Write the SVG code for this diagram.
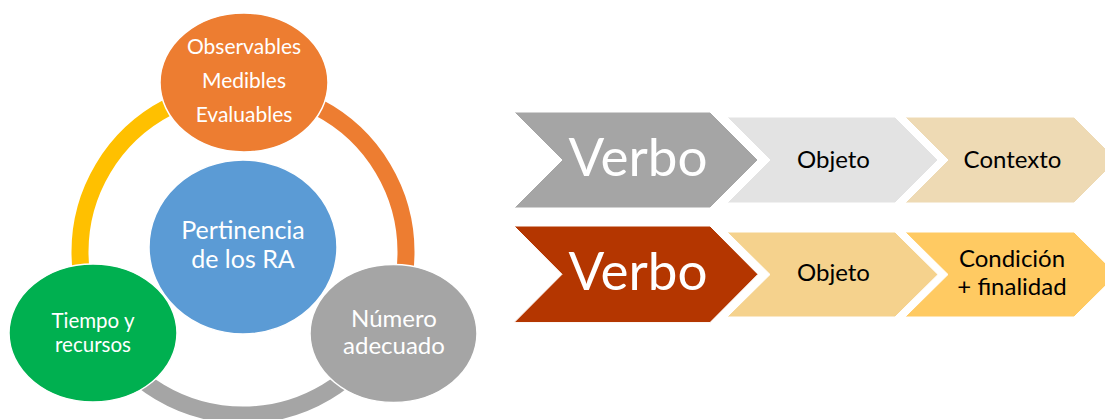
<svg xmlns="http://www.w3.org/2000/svg" width="1105" height="419" viewBox="0 0 1105 419">
<style>
.t{font-family:Lato,"Open Sans","Liberation Sans",sans-serif;text-anchor:middle}
.w{fill:#ffffff}
.k{fill:#000000}
.ell{stroke:#ffffff;stroke-width:1.5}
.chev{stroke:#ffffff;stroke-width:1}
.ring{fill:none;stroke-width:17}
</style>
<rect width="1105" height="419" fill="#ffffff"/>
<g id="connectors">
<path class="ring" stroke="#FFC000" d="M 243 89 A 163 163 0 0 0 99.6 329.5"/>
<path class="ring" stroke="#ED7D31" d="M 243 89 A 163 163 0 0 1 386.4 329.5"/>
<path class="ring" stroke="#A5A5A5" d="M 386.4 329.5 A 163 163 0 0 1 99.6 329.5"/>
</g>
<g id="node-top">
<ellipse class="ell" cx="244" cy="82.5" rx="84" ry="69.5" fill="#ED7D31"/>
<text class="t w" x="244" y="54" font-size="21">Observables</text>
<text class="t w" x="244" y="88" font-size="21">Medibles</text>
<text class="t w" x="244" y="122" font-size="21">Evaluables</text>
</g>
<g id="node-center">
<ellipse class="ell" cx="243" cy="247" rx="94" ry="87" fill="#5B9BD5"/>
<text class="t w" x="243" y="239" font-size="25">Pertinencia</text>
<text class="t w" x="243" y="268" font-size="25">de los RA</text>
</g>
<g id="node-green">
<ellipse class="ell" cx="93" cy="333" rx="84" ry="69" fill="#00B050"/>
<text class="t w" x="93" y="328" font-size="20.5">Tiempo y</text>
<text class="t w" x="93" y="352" font-size="20.5">recursos</text>
</g>
<g id="node-gray">
<ellipse class="ell" cx="393.5" cy="333.5" rx="83.5" ry="69" fill="#A5A5A5"/>
<text class="t w" x="394" y="327" font-size="24">Número</text>
<text class="t w" x="394" y="354" font-size="24">adecuado</text>
</g>
<g id="row1-verbo">
<polygon class="chev" fill="#A5A5A5" points="514,112 710,112 758,160 710,208 514,208 562,160"/>
<text class="t w" x="638" y="176" font-size="53">Verbo</text>
</g>
<g id="row1-objeto">
<polygon class="chev" fill="#E3E3E3" points="727,117 895,117 938,160 895,203 727,203 770,160"/>
<text class="t k" x="833.5" y="168" font-size="24">Objeto</text>
</g>
<g id="row1-contexto">
<polygon class="chev" fill="#EEDAB4" points="905,117 1074,117 1117,160 1074,203 905,203 948,160"/>
<text class="t k" x="1012.5" y="168" font-size="24">Contexto</text>
</g>
<g id="row2-verbo">
<polygon class="chev" fill="#B43600" points="514,226 710,226 758,274.3 710,322.6 514,322.6 562,274.3"/>
<text class="t w" x="638" y="290" font-size="53">Verbo</text>
</g>
<g id="row2-objeto">
<polygon class="chev" fill="#F5D28D" points="727,232 895,232 938,274.5 895,317 727,317 770,274.5"/>
<text class="t k" x="833.5" y="281" font-size="24">Objeto</text>
</g>
<g id="row2-condicion">
<polygon class="chev" fill="#FFCA62" points="905,232 1074,232 1117,274.5 1074,317 905,317 948,274.5"/>
<text class="t k" x="1012" y="266.7" font-size="24">Condición</text>
<text class="t k" x="1012" y="295" font-size="24">+ finalidad</text>
</g>
</svg>
